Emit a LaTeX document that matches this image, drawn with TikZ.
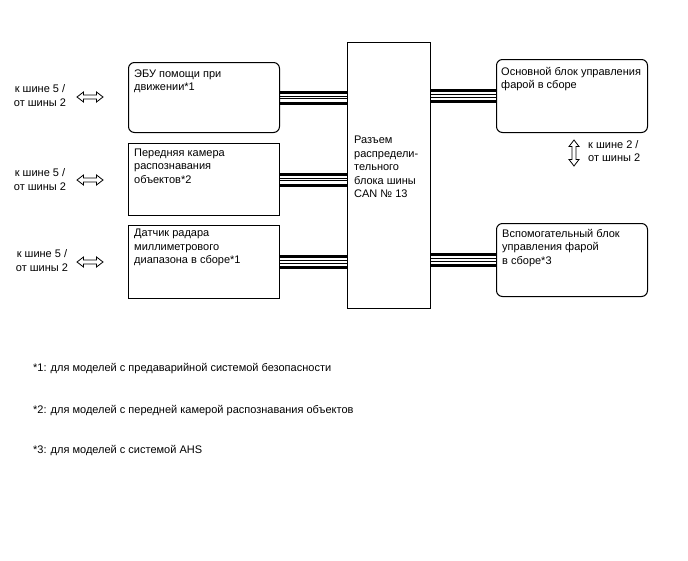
\documentclass[tikz,border=0pt]{standalone}
\usepackage{fontspec}
\setmainfont{Liberation Sans}
\begin{document}
\begin{tikzpicture}[x=1pt,y=-1pt,
  box/.style={draw, line width=1pt, inner sep=0pt, anchor=north west},
  rbox/.style={box, rounded corners=6pt},
  txt/.style={anchor=north west, inner sep=0pt, align=left, font=\fontsize{11}{13.5}\selectfont},
  ctxt/.style={txt, anchor=center, align=center},
  dblarrow/.pic={\draw[line width=0.8pt, fill=white] (-13,0) -- (-6.5,-5) -- (-6.5,-2) -- (6.5,-2) -- (6.5,-5) -- (13,0) -- (6.5,5) -- (6.5,2) -- (-6.5,2) -- (-6.5,5) -- cycle;}
]
\useasboundingbox (0,0) rectangle (688,560);
\fill[white] (0,0) rectangle (688,560);

% boxes
\node[rbox, minimum width=151pt, minimum height=70pt] (b1) at (128,62) {};
\node[box, minimum width=151pt, minimum height=72pt] (b2) at (128,143) {};
\node[box, minimum width=151pt, minimum height=73pt] (b3) at (128,225) {};
\node[box, minimum width=83pt, minimum height=266pt] (can) at (347,42) {};
\node[rbox, minimum width=151pt, minimum height=73pt] (r1) at (496,59) {};
\node[rbox, minimum width=151pt, minimum height=73pt] (r2) at (496,223) {};

% box texts
\node[txt] (t1) at ([xshift=6pt,yshift=-7.5pt]b1.north west) {ЭБУ помощи при\\движении*1};
\node[txt] (t2) at ([xshift=6pt,yshift=-5.5pt]b2.north west) {Передняя камера\\распознавания\\объектов*2};
\node[txt] (t3) at ([xshift=6pt,yshift=-4pt]b3.north west) {Датчик радара\\миллиметрового\\диапазона в сборе*1};
\node[txt] (tc) at ([xshift=7pt,yshift=-94pt]can.north west) {Разъем\\распредели-\\тельного\\блока шины\\CAN № 13};
\node[txt] (tr1) at ([xshift=5pt,yshift=-8pt]r1.north west) {Основной блок управления\\фарой в сборе};
\node[txt] (tr2) at ([xshift=6pt,yshift=-6pt]r2.north west) {Вспомогательный блок\\управления фарой\\в сборе*3};

% buses
\foreach \s/\w in {5.5/3, 1.4/1, -1.4/1, -5.5/3}{
  \draw[line width=\w pt] ([yshift=\s pt]b1.east) -- ([yshift=\s pt]b1.east -| can.west);
  \draw[line width=\w pt] ([yshift=\s pt]b2.east) -- ([yshift=\s pt]b2.east -| can.west);
  \draw[line width=\w pt] ([yshift=\s pt]b3.east) -- ([yshift=\s pt]b3.east -| can.west);
  \draw[line width=\w pt] ([yshift=\s pt]r1.west) -- ([yshift=\s pt]r1.west -| can.east);
  \draw[line width=\w pt] ([yshift=\s pt]r2.west) -- ([yshift=\s pt]r2.west -| can.east);
}

% external bus labels and arrows
\node[ctxt] (l1) at (40,95.5) {к шине 5 /\\от шины 2};
\node[ctxt] (l2) at (40,179.5) {к шине 5 /\\от шины 2};
\node[ctxt] (l3) at (42,260.5) {к шине 5 /\\от шины 2};
\pic (a1) at (90,97) {dblarrow};
\pic (a2) at (90,180) {dblarrow};
\pic (a3) at (90,262) {dblarrow};
\pic[rotate=90] (a4) at (574,153) {dblarrow};
\node[txt, anchor=west] (l4) at (588,151) {к шине 2 /\\от шины 2};

% footnotes
\node[txt, anchor=west] (f1) at (33,369) {*1: для моделей с предаварийной системой безопасности};
\node[txt, anchor=west] (f2) at (33,411) {*2: для моделей с передней камерой распознавания объектов};
\node[txt, anchor=west] (f3) at (33,451) {*3: для моделей с системой AHS};
\end{tikzpicture}
\end{document}
